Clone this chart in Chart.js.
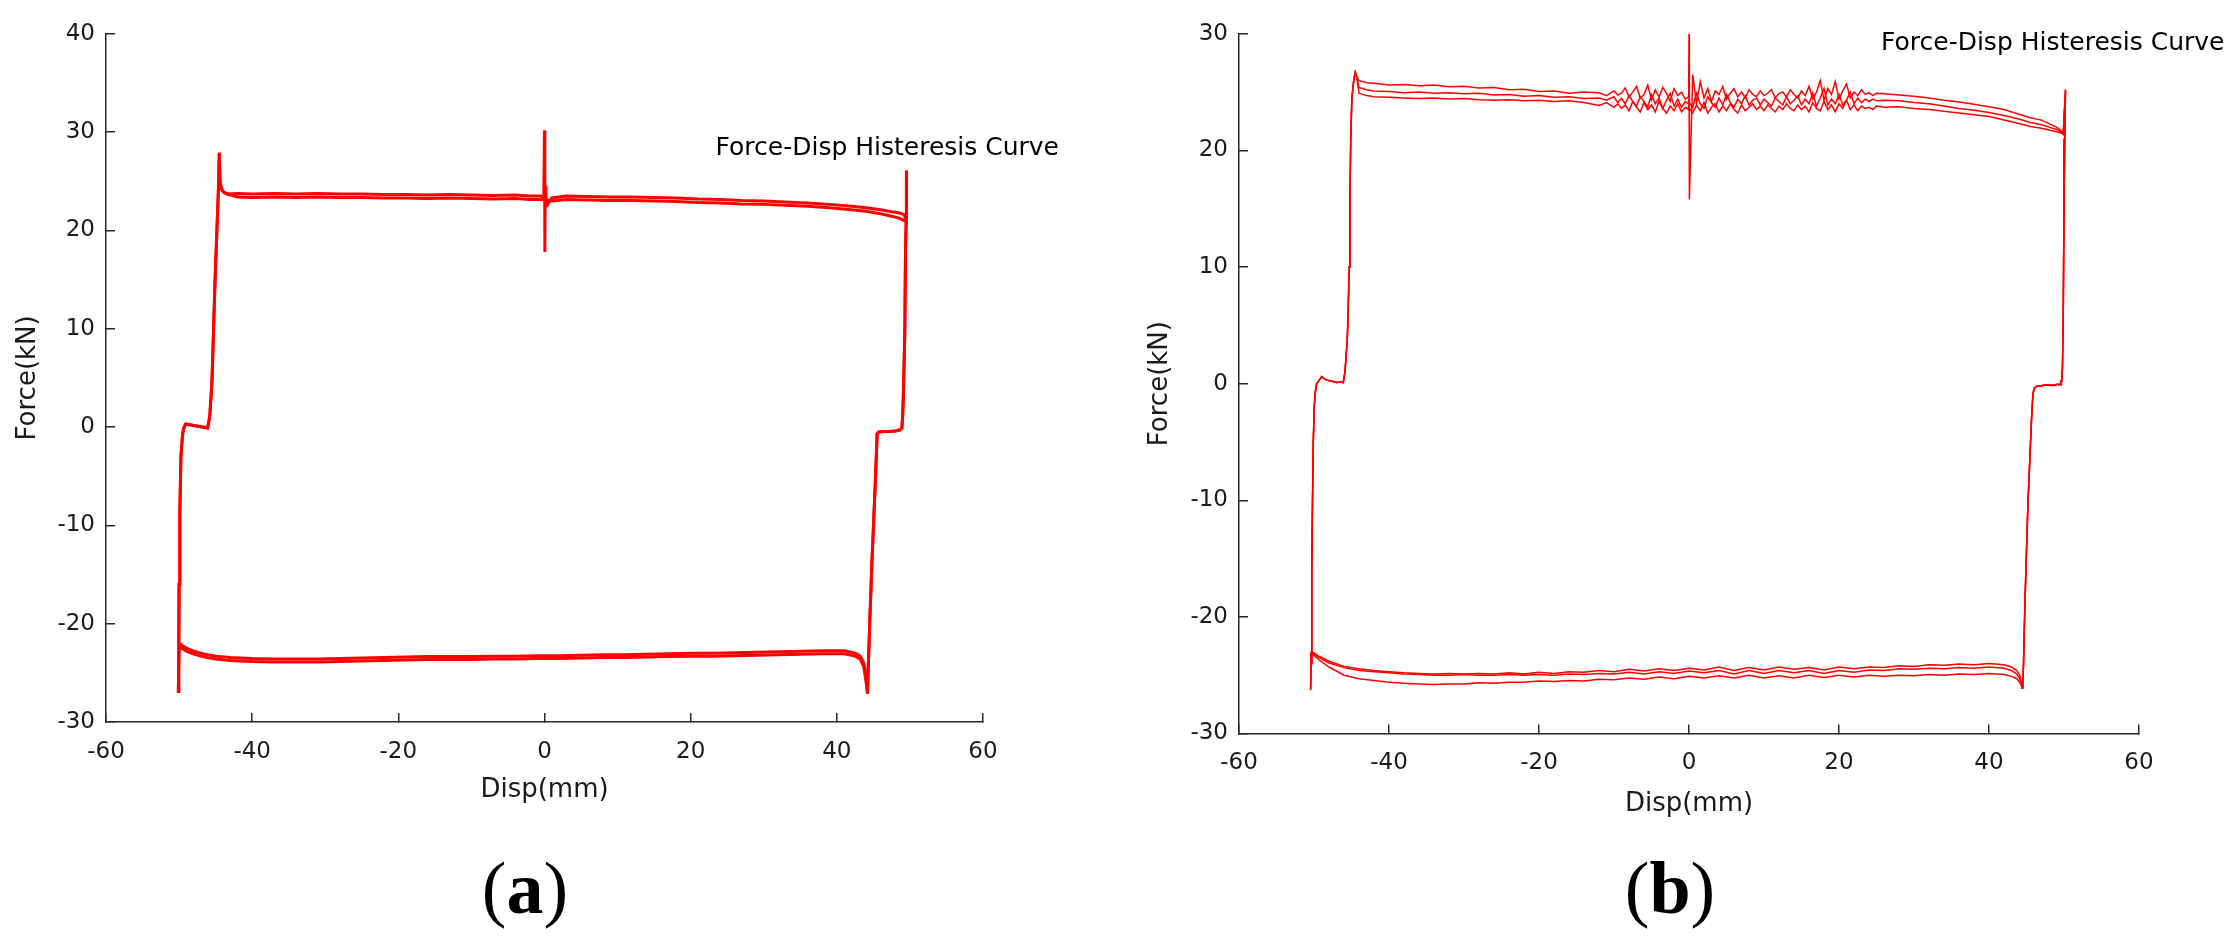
<!DOCTYPE html>
<html>
<head>
<meta charset="utf-8">
<script src="https://cdn.jsdelivr.net/npm/chart.js@4.4.1/dist/chart.umd.min.js"></script>
<style>
  html, body { margin: 0; padding: 0; background: #fff; }
  body { width: 2231px; height: 946px; position: relative; overflow: hidden; }
  canvas { position: absolute; top: 0; }
  #chartA { left: 0; }
  #chartB { left: 1100px; }
</style>
</head>
<body>
<canvas id="chartA" width="1100" height="946"></canvas>
<canvas id="chartB" width="1131" height="946"></canvas>
<script>
// ---- (a) ----
const riseDispA = [-50.0, -50.1, -50.05, -50.0, -49.9, -49.75, -49.55, -49.4, -49.1, -48.7, -48.0, -47.2, -46.4, -46.1, -45.8, -45.5, -45.1, -44.8, -44.6, -44.5, -44.4, -44.2, -43.9, -43.4];
const riseForceA = [-22.3, -26.9, -24.0, -16.0, -9.0, -3.0, -1.0, -0.2, 0.3, 0.25, 0.15, 0.05, -0.05, -0.1, 1.1, 4.6, 14.4, 20.5, 24.5, 27.9, 25.0, 24.2, 23.9, 23.7];

const topDispA = [-42, -40, -37, -34, -31, -28, -25, -22, -19, -16, -13, -10, -7, -4, -2, -0.6, -0.1, 0.0, 0.05, 0.1, 0.2, 0.4, 1, 3, 6, 9, 12, 15, 18, 21, 24, 27, 30, 33, 36, 39, 42, 44, 46, 47.5, 48.5, 49.2];
const topForceA1 = [23.75, 23.7, 23.75, 23.7, 23.75, 23.7, 23.7, 23.65, 23.65, 23.6, 23.65, 23.6, 23.55, 23.6, 23.5, 23.5, 23.4, 30.2, 17.8, 24.5, 23.0, 22.6, 23.3, 23.5, 23.45, 23.4, 23.4, 23.35, 23.3, 23.2, 23.15, 23.05, 23.0, 22.9, 22.8, 22.65, 22.45, 22.3, 22.1, 21.9, 21.8, 21.6];
const topForceA2 = [23.4, 23.35, 23.4, 23.35, 23.4, 23.35, 23.35, 23.3, 23.3, 23.25, 23.3, 23.25, 23.2, 23.25, 23.15, 23.15, 23.1, 23.15, 23.1, 23.1, 23.05, 23.1, 23.0, 23.15, 23.1, 23.05, 23.05, 23.0, 22.95, 22.85, 22.8, 22.7, 22.65, 22.55, 22.45, 22.3, 22.1, 21.95, 21.7, 21.45, 21.25, 21.0];

const fallDispA = [49.4, 49.5, 49.55, 49.5, 49.4, 49.3, 49.1, 49.0, 48.9, 48.6, 48.0, 47.2, 46.4, 45.8, 45.6, 45.5, 45.3, 44.8, 44.5, 44.3, 44.2];
const fallForceA = [21.3, 21.2, 26.1, 22.0, 18.0, 9.6, 3.0, 1.0, -0.1, -0.3, -0.4, -0.45, -0.45, -0.5, -0.6, -1.0, -5.0, -13.8, -20.0, -24.5, -27.1];

const bottomDispA = [44.0, 43.7, 43.2, 42.5, 41, 38, 35, 32, 29, 26, 23, 20, 17, 14, 11, 8, 5, 2, -1, -4, -7, -10, -13, -16, -19, -22, -25, -28, -31, -34, -37, -40, -43, -45, -46.5, -48, -49, -49.6, -50.0];
const bottomForceA1 = [-25.5, -24.0, -23.3, -23.0, -22.75, -22.75, -22.8, -22.85, -22.9, -22.95, -23.0, -23.0, -23.05, -23.1, -23.15, -23.15, -23.2, -23.25, -23.25, -23.3, -23.3, -23.35, -23.35, -23.35, -23.4, -23.45, -23.5, -23.55, -23.6, -23.6, -23.6, -23.55, -23.45, -23.3, -23.1, -22.8, -22.5, -22.2, -22.0];
const bottomForceA2 = [-25.9, -24.4, -23.6, -23.3, -23.05, -23.05, -23.1, -23.15, -23.2, -23.25, -23.3, -23.3, -23.35, -23.4, -23.45, -23.45, -23.5, -23.55, -23.55, -23.6, -23.6, -23.65, -23.65, -23.65, -23.7, -23.75, -23.8, -23.85, -23.9, -23.9, -23.9, -23.85, -23.75, -23.6, -23.4, -23.1, -22.8, -22.5, -22.2];

// ---- (b) ----
const riseDispB = [-50.4, -50.45, -50.4, -50.3, -50.2, -50.1, -49.95, -49.8, -49.64, -49.3, -48.97, -48.6, -48.3, -47.6, -46.97, -46.4, -46.1, -45.87, -45.56, -45.43, -45.3, -45.2, -45.1, -44.95, -44.7, -44.5, -44.3];
const riseForceB = [-23.0, -26.25, -24.0, -16.0, -10.2, -5.0, -1.8, -0.6, 0.0, 0.3, 0.6, 0.4, 0.3, 0.2, 0.1, 0.15, 0.1, 1.0, 3.8, 6.6, 10.0, 16.0, 21.0, 24.5, 26.0, 26.7, 26.3];

const upDispB = [-44.0, -43.0, -42.0, -40, -38, -36, -34, -32, -30, -28, -26, -24, -22, -20, -18, -16, -14,
  -12, -11, -10, -9.5, -9, -8.5, -8, -7.5, -7, -6.5, -6, -5.5, -5, -4.5, -4, -3.5, -3, -2.5, -2, -1.5, -1, -0.5,
  -0.05, 0.0, 0.05,
  0.5, 1, 1.5, 2, 2.5, 3, 3.5, 4, 4.5, 5, 5.5, 6, 6.5, 7, 7.5, 8, 8.5, 9, 9.5, 10, 10.5, 11, 11.5, 12, 12.5,
  13, 13.5, 14, 14.5, 15, 15.5, 16, 16.5, 17, 17.5, 18, 18.5, 19, 19.5, 20, 20.5, 21, 21.5, 22, 22.5, 23, 23.5, 24, 24.5, 25, 26,
  28, 30, 32, 34, 36, 38, 40, 42, 44,
  45.5, 47, 48, 49, 49.6];
const upForceB1 = [26.0, 25.8, 25.75, 25.6, 25.65, 25.55, 25.6, 25.45, 25.5, 25.35, 25.4, 25.2, 25.25, 25.05, 25.1, 24.9, 25.0,
  24.95, 24.7, 25.1, 24.75, 24.9, 25.35, 24.6, 25.0, 25.5, 24.5, 24.8, 25.6, 24.3, 25.2, 24.6, 25.4, 24.9, 24.2, 25.3, 24.7, 25.0, 24.4,
  24.6, 30.0, 15.8,
  26.5, 24.0, 25.9, 24.5, 25.3, 24.2, 25.1, 24.8, 25.5, 24.4, 24.9, 25.3, 24.6, 25.0, 24.5, 25.2, 24.8, 24.6, 25.1, 24.7, 24.9, 25.2, 24.5, 24.9, 25.0,
  24.6, 25.2, 24.8, 24.5, 25.1, 24.7, 25.5, 24.4, 25.0, 26.0, 24.3, 25.3, 24.8, 25.9, 24.4, 25.1, 25.7, 24.5, 25.0, 24.7, 25.2, 24.8, 24.95, 24.7, 24.9, 24.85,
  24.75, 24.65, 24.5, 24.3, 24.15, 23.95, 23.75, 23.5, 23.1,
  22.8, 22.6, 22.3, 22.0, 21.7];
const upForceB2 = [25.4, 25.2, 25.1, 25.05, 24.95, 25.0, 24.9, 24.95, 24.85, 24.9, 24.75, 24.8, 24.65, 24.7, 24.55, 24.6, 24.45,
  24.5, 24.3, 24.6, 24.1, 24.45, 24.0, 24.7, 24.2, 23.8, 24.6, 24.2, 23.7, 24.8, 24.0, 24.5, 23.6, 24.3, 24.9, 23.8, 24.4, 23.7, 24.2,
  24.0, 24.4, 24.1,
  23.7, 24.9, 24.0, 23.6, 24.6, 24.1, 23.7, 24.5, 23.9, 24.8, 24.1, 23.7, 24.4, 24.0, 24.7, 23.9, 24.3, 24.5, 23.9, 24.4, 24.1, 23.8, 24.5, 24.2, 23.9,
  24.6, 24.0, 24.3, 24.7, 23.9, 24.4, 24.0, 24.9, 23.8, 24.5, 25.3, 23.9, 24.4, 24.0, 24.8, 23.9, 24.3, 25.0, 24.0, 24.5, 24.1, 24.4, 24.2, 24.4, 24.25, 24.3,
  24.25, 24.1, 24.0, 23.8, 23.6, 23.45, 23.25, 23.0, 22.7,
  22.4, 22.2, 22.0, 21.8, 21.6];
const upForceB3 = [24.9, 24.7, 24.6, 24.55, 24.5, 24.45, 24.5, 24.4, 24.45, 24.35, 24.3, 24.35, 24.25, 24.3, 24.2, 24.25, 24.1,
  23.85, 24.1, 23.7, 24.0, 23.6, 23.9, 23.4, 24.2, 23.7, 23.3, 24.1, 23.5, 23.9, 23.3, 24.2, 23.6, 23.2, 23.8, 23.4, 24.0, 23.3, 23.7,
  23.5, 23.8, 23.6,
  23.2, 23.9, 23.4, 24.1, 23.2, 23.7, 24.0, 23.3, 23.8, 23.4, 24.0, 23.5, 23.2, 23.9, 23.4, 23.7, 24.0, 23.5, 23.8, 23.4, 23.9, 23.6, 23.3, 23.8, 23.5,
  24.0, 23.6, 23.4, 23.9, 23.5, 23.8, 23.3, 24.1, 23.6, 23.4, 24.2, 23.5, 23.9, 23.3, 24.0, 23.6, 24.3, 23.5, 23.9, 23.4, 23.8, 23.6, 23.7, 23.5, 23.8, 23.7,
  23.75, 23.6, 23.5, 23.35, 23.2, 23.05, 22.9, 22.6, 22.3,
  22.05, 21.9, 21.75, 21.6, 21.5];

const fallDispB = [49.9, 50.2, 50.1, 50.0, 49.9, 49.8, 49.7, 49.6, 49.2, 48.4, 47.6, 46.8, 46.3, 46.0, 45.85, 45.7, 45.2, 44.8, 44.6, 44.5];
const fallForceB = [21.4, 25.2, 21.0, 15.0, 6.0, 1.5, 0.3, -0.1, -0.05, -0.15, -0.1, -0.2, -0.25, -0.4, -1.0, -2.6, -10.2, -18.6, -24.1, -26.1];

const lowDispB = [44.4, 44.1, 43.7, 43.0, 42.0,
  40, 38, 36, 34, 32, 30, 28, 26, 24, 22, 20, 18, 16, 14, 12, 10, 8, 6, 4, 2, 0, -2, -4, -6, -8, -10, -12, -14, -16, -18, -20, -22, -24, -26, -28, -30, -32, -34, -36, -38, -40, -42, -44, -46, -48,
  -49.3, -50.0, -50.4];
const lowForceB1 = [-25.8, -25.0, -24.6, -24.3, -24.1,
  -24.0, -24.1, -24.05, -24.15, -24.1, -24.25, -24.2, -24.35, -24.3, -24.45, -24.3, -24.55, -24.35, -24.5, -24.3, -24.55, -24.35, -24.6, -24.3, -24.55, -24.4, -24.6, -24.45, -24.65, -24.5, -24.7, -24.6, -24.75, -24.7, -24.85, -24.75, -24.9, -24.8, -24.9, -24.85, -24.9, -24.85, -24.9, -24.85, -24.8, -24.7, -24.6, -24.45, -24.25, -23.8,
  -23.4, -23.1, -23.0];
const lowForceB2 = [-25.9, -25.3, -24.9, -24.6, -24.4,
  -24.3, -24.4, -24.35, -24.45, -24.4, -24.5, -24.45, -24.6, -24.55, -24.75, -24.6, -24.85, -24.6, -24.8, -24.6, -24.85, -24.6, -24.9, -24.6, -24.8, -24.65, -24.85, -24.7, -24.9, -24.75, -24.9, -24.85, -24.95, -24.9, -25.0, -24.95, -25.0, -24.95, -25.0, -25.0, -24.95, -25.0, -25.0, -24.95, -24.9, -24.8, -24.7, -24.6, -24.35, -23.95,
  -23.5, -23.2, -23.0];
const lowForceB3 = [-26.0, -25.6, -25.3, -25.1, -24.95,
  -24.85, -24.95, -24.9, -25.0, -24.95, -25.05, -25.0, -25.1, -25.0, -25.15, -25.0, -25.2, -25.0, -25.25, -25.05, -25.25, -25.0, -25.25, -25.05, -25.25, -25.1, -25.3, -25.15, -25.35, -25.25, -25.4, -25.35, -25.5, -25.45, -25.55, -25.5, -25.6, -25.6, -25.7, -25.65, -25.75, -25.75, -25.8, -25.75, -25.7, -25.6, -25.45, -25.3, -25.0, -24.3,
  -23.7, -23.3, -23.0];

const FONT = 'DejaVu Sans';
const INK = '#1a1a1a';
const AXIS = '#262626';
const RED = '#ff0000';

function loop(parts) {
  let pts = [];
  parts.forEach(function (p) {
    p[0].forEach(function (x, i) { pts.push({ x: x, y: p[1][i] }); });
  });
  return pts;
}

function cycle(points, width) {
  return {
    data: points, showLine: true, borderColor: RED, borderWidth: width,
    pointRadius: 0, tension: 0, fill: false
  };
}

// draws the in-plot caption and the (a)/(b) panel label
const notes = {
  id: 'notes',
  afterDraw(chart, args, o) {
    const ctx = chart.ctx;
    ctx.save();
    ctx.fillStyle = '#000';
    ctx.textBaseline = 'alphabetic';
    ctx.font = '25px "' + FONT + '"';
    ctx.textAlign = o.titleAlign;
    ctx.fillText(o.title, o.titleX, o.titleY);
    ctx.textAlign = 'left';
    const reg = '74px "Liberation Serif"', bold = 'bold 74px "Liberation Serif"';
    ctx.font = reg;
    const wp = ctx.measureText('(').width, wq = ctx.measureText(')').width;
    ctx.font = bold;
    const wl = ctx.measureText(o.letter).width;
    let x = o.labelX - (wp + wl + wq) / 2;
    ctx.font = reg; ctx.fillText('(', x, o.labelY); x += wp;
    ctx.font = bold; ctx.fillText(o.letter, x, o.labelY); x += wl;
    ctx.font = reg; ctx.fillText(')', x, o.labelY);
    ctx.restore();
  }
};

function scale(min, max, step, title, size, tickPad, titlePad) {
  return {
    type: 'linear', min: min, max: max,
    ticks: { stepSize: step, padding: tickPad, color: INK, font: { family: FONT, size: 23 } },
    grid: { drawOnChartArea: false, drawTicks: true, tickLength: -9, color: AXIS, lineWidth: 1.5 },
    border: { display: true, color: AXIS, width: 1.5 },
    title: { display: true, text: title, color: INK, font: { family: FONT, size: 26 }, padding: titlePad },
    afterFit: size
  };
}

function makeChart(id, datasets, pad, yWidth, xHeight, yMin, yMax, xTitlePad, yTitlePad, note) {
  return new Chart(document.getElementById(id), {
    type: 'scatter',
    data: { datasets: datasets },
    options: {
      responsive: false, animation: false, devicePixelRatio: 1,
      layout: { padding: pad },
      plugins: { legend: { display: false }, tooltip: { enabled: false }, notes: note },
      scales: {
        x: scale(-60, 60, 20, 'Disp(mm)', function (s) { s.height = xHeight; }, 25, xTitlePad),
        y: scale(yMin, yMax, 10, 'Force(kN)', function (s) { s.width = yWidth; }, 20, yTitlePad)
      }
    },
    plugins: [notes]
  });
}

makeChart('chartA', [
  cycle(loop([[riseDispA, riseForceA], [topDispA, topForceA1], [fallDispA, fallForceA], [bottomDispA, bottomForceA1]]), 3),
  cycle(loop([[riseDispA, riseForceA], [topDispA, topForceA2], [fallDispA, fallForceA], [bottomDispA, bottomForceA2]]), 3)
], { left: 0, top: 31, right: 117, bottom: 106 }, 106, 118, -30, 40,
  { top: 0, bottom: 34 }, { top: 13, bottom: 0 },
  { title: 'Force-Disp Histeresis Curve', titleAlign: 'right', titleX: 1059, titleY: 155, letter: 'a', labelX: 525, labelY: 913 });

makeChart('chartB', [
  cycle(loop([[riseDispB, riseForceB], [upDispB, upForceB1], [fallDispB, fallForceB], [lowDispB, lowForceB1]]), 1.5),
  cycle(loop([[riseDispB, riseForceB], [upDispB, upForceB2], [fallDispB, fallForceB], [lowDispB, lowForceB2]]), 1.5),
  cycle(loop([[riseDispB, riseForceB], [upDispB, upForceB3], [fallDispB, fallForceB], [lowDispB, lowForceB3]]), 1.5)
], { left: 0, top: 21, right: 92, bottom: 106 }, 139, 106.5, -30, 30,
  { top: 0, bottom: 20 }, { top: 45, bottom: 0 },
  { title: 'Force-Disp Histeresis Curve', titleAlign: 'left', titleX: 781, titleY: 50, letter: 'b', labelX: 570, labelY: 913 });
</script>
</body>
</html>
